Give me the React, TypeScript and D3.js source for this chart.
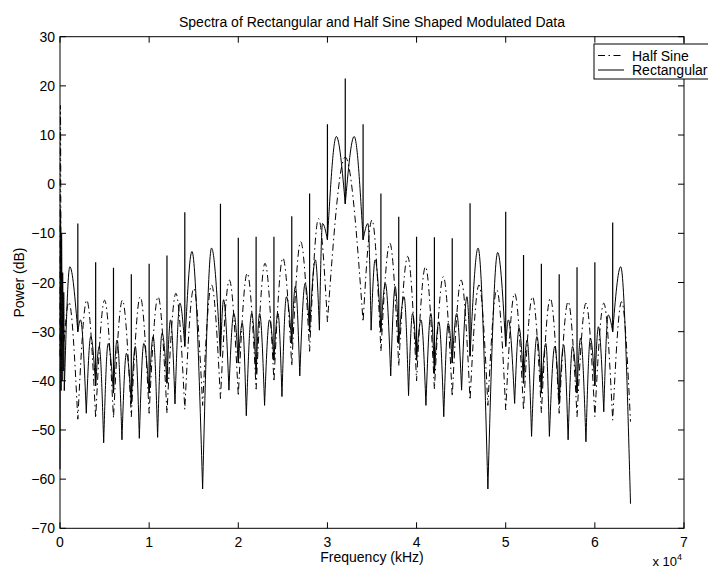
import * as d3 from 'd3';

const W = 708;
const H = 568;
const FONT = '"Liberation Sans", Arial, sans-serif';

type Pt = [number, number];

const X_TICKS = [0, 10000, 20000, 30000, 40000, 50000, 60000, 70000];
const X_TICK_LABELS = ['0', '1', '2', '3', '4', '5', '6', '7'];
const Y_TICKS = [-70, -60, -50, -40, -30, -20, -10, 0, 10, 20, 30];

// Rectangular: lobe points alternate null / peak (Hz, dB)
const RECT_DC: Pt[] = [
  [0, -58], [60, -5], [120, -42], [180, -10], [240, -40], [300, -18],
  [360, -38], [420, -22], [480, -42], [1100, -16.8], [2000, -30],
];
const RECT_LEFT: Pt[] = [
  [2300, -27.6], [2950, -46.6], [3450, -31], [4000, -41],
  [4400, -33], [4900, -52.6], [5400, -32.4], [6000, -42.5],
  [6400, -31.7], [6950, -52], [7450, -34.4], [8000, -44.6],
  [8450, -33], [8900, -51.7], [9400, -32.4], [10000, -42.5],
  [10450, -31], [10950, -51.5], [11450, -30.3], [12000, -40.5],
  [12400, -27.6], [12900, -44.7], [13450, -24.2], [14000, -33],
  [14800, -13.7], [16000, -62], [17000, -13], [18000, -35],
  [18350, -23.5], [18950, -41.9], [19500, -26.3], [20000, -36.4],
  [20450, -28.3], [20900, -47.1], [21500, -26.3], [22000, -38.5],
  [22400, -26.3], [22950, -45], [23500, -27.6], [24000, -35.8],
  [24450, -26.3], [24900, -43.2], [25400, -22.9], [26000, -32.4],
  [26400, -20.8], [26900, -39], [27500, -20.2], [28000, -30],
  [28650, -15.4], [29100, -29.7], [29450, -8], [30000, -11.3],
  [31000, 9.7], [32000, -4],
];
const RECT_RIGHT: Pt[] = [
  [33000, 9.7], [34000, -11.3],
  [34550, -8], [34900, -29.7], [35350, -15.4], [36000, -30],
  [36500, -20.2], [37100, -39], [37600, -20.8], [38000, -32.4],
  [38600, -22.9], [39100, -43], [39550, -26.3], [40000, -35.8],
  [40500, -27.6], [41050, -45], [41600, -26.3], [42000, -38.5],
  [42500, -28], [43050, -47.3], [43550, -28.3], [44000, -36.4],
  [44500, -26.3], [45050, -41.9], [45650, -22.9], [46000, -35],
  [46900, -13], [48000, -62], [49100, -13.9], [50000, -33],
  [50300, -27.6], [51000, -44.6], [51500, -29.3], [52000, -40.5],
  [52400, -31.7], [52900, -51.3], [53500, -31], [54000, -42.5],
  [54500, -32.4], [54900, -51.3], [55500, -33], [56000, -44.6],
  [56500, -32.7], [57000, -52], [57500, -33], [58000, -42.5],
  [58400, -31.3], [59000, -52.4], [59500, -31.3], [60000, -41],
  [60400, -29], [61000, -46.3], [61500, -26.6], [62000, -30],
  [62900, -16.8], [64000, -65],
];

// discrete spectral lines of the rectangular signal
const RECT_LINE_HZ = [
  2000, 4000, 6000, 8000, 10000, 12000, 14000, 18000, 20000, 22000, 24000,
  26000, 28000, 30000, 32000, 34000, 36000, 38000, 40000, 42000, 44000,
  46000, 50000, 52000, 54000, 56000, 58000, 60000, 62000,
];
const RECT_LINE_DB = [
  -8, -15.9, -17, -18.3, -16.2, -14.5, -5.7, -4, -10.9, -10.7, -10.7,
  -6.5, -1.9, 12.2, 21.5, 12.2, -1.9, -6.6, -10.7, -10.8, -11,
  -3.9, -5.6, -14.4, -16.2, -18.3, -16.9, -15.9, -7.8,
];

// Half sine: null / peak alternating
const HALF_DC: Pt[] = [
  [0, -35], [50, 16], [120, -38], [250, -27], [400, -33], [1000, -24], [2000, -47.8],
];
const HALF_LEFT: Pt[] = [
  [3000, -23.6], [4000, -47.6], [5000, -23.6], [6000, -47.6],
  [7000, -23.6], [8000, -47.3], [9000, -22.9], [10000, -46.6],
  [11000, -22.9], [12000, -46.6], [13000, -22.2], [14000, -45.8],
  [15000, -21.2], [16000, -45], [17000, -20.5], [18000, -43.6],
  [19000, -19.5], [20000, -43.1], [21000, -18.1], [22000, -41.7],
  [23000, -16.1], [24000, -40.2], [25000, -15], [26000, -37],
  [27000, -11.7], [28000, -34], [29000, -7], [30000, -28],
  [32000, 5.5],
];
const HALF_RIGHT: Pt[] = [
  [34000, -28], [35000, -7.3], [36000, -34], [37000, -12],
  [38000, -37], [39000, -14.7], [40000, -40], [41000, -16.8],
  [42000, -41.7], [43000, -18.8], [44000, -43.2], [45000, -19.5],
  [46000, -43.9], [47000, -20.5], [48000, -45], [49000, -21.5],
  [50000, -45.9], [51000, -22.2], [52000, -46], [53000, -22.9],
  [54000, -46.5], [55000, -23.2], [56000, -46.6], [57000, -23.9],
  [58000, -47.3], [59000, -24.2], [60000, -47.3], [61000, -24.2],
  [62000, -48], [63000, -23.9], [64000, -48.3],
];

const margin = { left: 60, right: 24, top: 36.7, bottom: 39.7 };

export default function App() {
  const x = d3.scaleLinear().domain([0, 70000]).range([margin.left, W - margin.right]);
  const y = d3.scaleLinear().domain([-70, 30]).range([H - margin.bottom, margin.top]);
  const [x0, x1] = x.range();
  const [y0, y1] = y.range();

  const line = d3.line<Pt>()
    .x((d) => x(d[0]))
    .y((d) => y(d[1]))
    .curve(d3.curveMonotoneX);

  // each lobe null-peak-null drawn on its own so the nulls stay sharp
  const lobes = (pts: Pt[]) => {
    let d = '';
    for (let i = 0; i + 2 < pts.length; i += 2) {
      const seg = line(pts.slice(i, i + 3)) || '';
      d += i === 0 ? seg : seg.replace(/^M/, 'L');
    }
    return d;
  };

  const rect = [...RECT_DC, ...RECT_LEFT, ...RECT_RIGHT];
  const half = [...HALF_DC, ...HALF_LEFT, ...HALF_RIGHT];
  const baseAt = (hz: number) => (rect.find((p) => p[0] === hz) || [hz, -40])[1];

  const spikes = RECT_LINE_HZ.map((hz, i) =>
    `M${x(hz)},${y(baseAt(hz))}L${x(hz)},${y(RECT_LINE_DB[i])}`).join('');

  const dashDot = '7,3.5,1.5,3.5';
  const tick = 6;

  return (
    <svg width={W} height={H} style={{ position: 'absolute', left: 0, top: 0, background: '#fff' }}
      fontFamily={FONT}>
      <rect x={0} y={0} width={W} height={H} fill="#fff" />

      <text x={(x0 + x1) / 2} y={27} fontSize={14} textAnchor="middle">
        Spectra of Rectangular and Half Sine Shaped Modulated Data
      </text>

      {/* data */}
      <path d={lobes(half)} fill="none" stroke="#000" strokeWidth={1} strokeDasharray={dashDot} />
      <path d={lobes(rect)} fill="none" stroke="#000" strokeWidth={1} />
      <path d={spikes} fill="none" stroke="#000" strokeWidth={1.2} />

      {/* frame */}
      <rect x={x0} y={y1} width={x1 - x0} height={y0 - y1} fill="none" stroke="#000" strokeWidth={1} />

      {X_TICKS.map((t, i) => (
        <g key={'x' + t}>
          <line x1={x(t)} x2={x(t)} y1={y0} y2={y0 - tick} stroke="#000" />
          <line x1={x(t)} x2={x(t)} y1={y1} y2={y1 + tick} stroke="#000" />
          <text x={x(t)} y={y0 + 19} fontSize={14} textAnchor="middle">{X_TICK_LABELS[i]}</text>
        </g>
      ))}
      {Y_TICKS.map((t) => (
        <g key={'y' + t}>
          <line x1={x0} x2={x0 + tick} y1={y(t)} y2={y(t)} stroke="#000" />
          <line x1={x1} x2={x1 - tick} y1={y(t)} y2={y(t)} stroke="#000" />
          <text x={x0 - 5} y={y(t) + 5} fontSize={14} textAnchor="end">
            {t < 0 ? '\u2212' + Math.abs(t) : String(t)}
          </text>
        </g>
      ))}

      <text x={(x0 + x1) / 2} y={562} fontSize={14} textAnchor="middle">Frequency (kHz)</text>
      <text x={682} y={566} fontSize={13} textAnchor="end">
        x 10<tspan dy={-6} fontSize={9}>4</tspan>
      </text>
      <text transform={`translate(24,${(y0 + y1) / 2}) rotate(-90)`} fontSize={14} textAnchor="middle">
        Power (dB)
      </text>

      {/* legend */}
      <g>
        <rect x={594} y={44} width={130} height={35} fill="#fff" stroke="#000" />
        <line x1={598} x2={624} y1={55.5} y2={55.5} stroke="#000" strokeDasharray={dashDot} />
        <text x={632} y={60.5} fontSize={14}>Half Sine</text>
        <line x1={598} x2={624} y1={70} y2={70} stroke="#000" />
        <text x={632} y={75} fontSize={14}>Rectangular</text>
      </g>
    </svg>
  );
}
